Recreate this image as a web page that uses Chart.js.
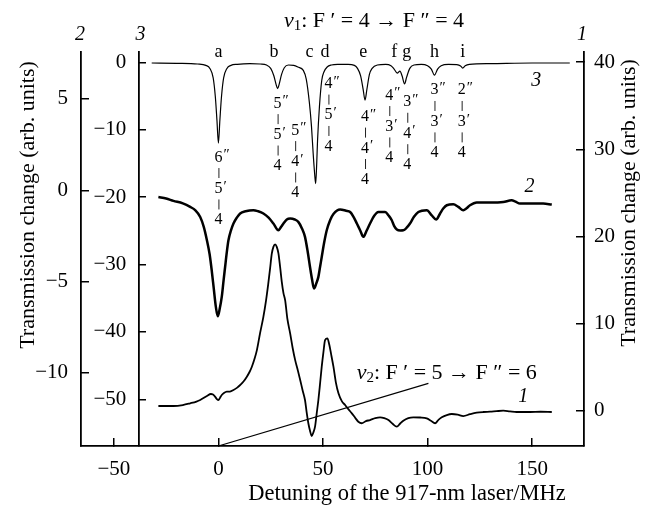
<!DOCTYPE html>
<html><head><meta charset="utf-8">
<script src="https://cdn.jsdelivr.net/npm/chart.js@4/dist/chart.umd.min.js"></script>
<style>html,body{margin:0;padding:0;background:#fff}#wrap{width:648px;height:508px}</style>
</head><body><div id="wrap"><canvas id="c" width="648" height="508"></canvas></div>
<script>
// ---- tick labels ----
const xTicks = [-50, 0, 50, 100, 150];
const y2Ticks = [-10, -5, 0, 5];
const y3Ticks = [-50, -40, -30, -20, -10, 0];
const y1Ticks = [0, 10, 20, 30, 40];

// ---- curve 3 (axis 3) ----
const curve3X = [-31.9,-20,-10,-6,-4,-2.5,-1.5,-0.7,0,0.7,1.5,2.5,4,6,9,15,20,23,25,26.5,27.6,28.3,29.0,30.2,31.5,33.5,36,38,40.6,42,43.5,44.5,45.3,46.0,46.5,47.0,47.4,48.3,49.4,50.5,52,54,57,62,65,66.5,68,69.2,70.1,71.0,72.2,73.5,76,80,82.5,84,85.5,86.8,87.8,89.0,90.0,91.5,93.5,97,100,101.8,103.3,104.8,106.5,110,114,115.8,116.8,118,120,130,150,168];
const curve3Y = [-0.1,-0.15,-0.25,-0.45,-0.95,-2.3,-5.0,-8.6,-12.0,-8.6,-5.0,-2.3,-0.95,-0.45,-0.3,-0.2,-0.25,-0.4,-0.9,-2.0,-3.3,-3.9,-3.3,-1.8,-0.8,-0.4,-0.45,-0.7,-1.2,-2.5,-6.0,-9.5,-13.5,-16.5,-18.0,-15.0,-11.6,-6.6,-2.7,-1.4,-0.7,-0.4,-0.3,-0.3,-0.45,-0.9,-2.0,-4.0,-5.6,-4.0,-1.8,-0.9,-0.4,-0.3,-0.5,-1.0,-1.6,-1.3,-2.0,-3.2,-2.2,-0.9,-0.4,-0.3,-0.5,-1.0,-1.9,-1.0,-0.5,-0.3,-0.35,-0.55,-0.85,-0.5,-0.3,-0.2,-0.1,-0.1];

// ---- curve 2 (axis 2) ----
const curve2X = [-28.7,-25,-21.5,-17,-13.5,-11,-8.7,-7,-5.5,-4.2,-3.2,-2.2,-1.2,-0.3,0.6,1.6,2.5,3.2,4.0,4.8,6.0,7.2,8.8,10.4,13,16.7,19,21.5,24,26.3,28.7,30,31.1,32.7,34.3,36.5,38.2,40,41.4,42.6,43.8,44.8,45.7,46.8,47.8,48.6,49.4,50.5,51.8,53.4,55.0,58.2,61,63.0,64.8,66.2,67.8,69.3,70.9,72.5,74.5,76.5,79.7,81.5,82.9,84,85.3,87,88.4,90,91.6,93.5,95.6,99.6,102.0,104.1,106.0,107.5,109.2,112.3,114.7,117.1,118.5,120.3,123.5,129.9,136.2,140.2,142,144.2,149.0,155.3,159.4];
const curve2Y = [-0.37,-0.45,-0.58,-0.72,-0.91,-1.1,-1.46,-2.0,-2.73,-3.5,-4.38,-5.4,-6.4,-6.9,-6.5,-5.84,-4.9,-4.2,-3.4,-2.74,-2.2,-1.82,-1.5,-1.27,-1.15,-1.09,-1.15,-1.27,-1.5,-1.82,-2.19,-2.0,-1.82,-1.6,-1.55,-1.6,-1.73,-2.1,-2.55,-3.3,-4.2,-4.9,-5.38,-5.1,-4.74,-4.2,-3.65,-2.9,-2.19,-1.64,-1.3,-1.05,-1.12,-1.19,-1.5,-1.82,-2.2,-2.55,-2.2,-1.82,-1.4,-1.19,-1.19,-1.4,-1.64,-1.95,-2.15,-2.2,-2.19,-2.05,-1.82,-1.45,-1.19,-1.09,-1.37,-1.6,-1.27,-1.0,-0.82,-0.77,-0.91,-1.09,-1.0,-0.82,-0.67,-0.67,-0.64,-0.55,-0.62,-0.73,-0.73,-0.73,-0.78];

// ---- curve 1 (axis 1) ----
const curve1X = [-28.7,-21.5,-17,-13.5,-10.5,-8.7,-5.5,-3.6,-2.6,-1.6,-0.6,0,0.8,1.6,2.8,4.0,5.5,7.2,9,10.4,12,13.6,15,16.0,17.2,18.4,19.9,21.5,22.8,23.8,24.7,25.5,26.3,27.1,27.9,28.7,29.5,30.3,31.1,31.9,33.0,34.3,35.5,36.7,38.0,39.1,40.3,41.4,42.2,43.0,43.8,44.6,45.4,46.2,47.0,47.8,48.6,49.4,50.2,51.0,52.1,53.0,53.8,55.0,56.2,57.4,59.0,60.6,62.2,63.8,65.5,66.9,68.5,70.5,72.5,75,77.3,79.3,81.3,83.3,85.3,86.8,88.4,90.8,93.2,96.5,99.6,101.6,103.6,105.2,106.8,109.2,111.6,114.4,117.1,120.3,123.5,126.7,129.9,133,136.2,139.4,142.6,149.0,154,159.4];
const curve1Y = [0.54,0.54,0.65,0.85,1.05,1.23,1.69,1.92,1.85,1.61,1.3,1.23,1.5,1.80,2.05,2.18,2.2,2.37,2.65,2.95,3.35,3.90,4.5,5.05,5.9,6.96,8.88,10.78,12.7,14.5,16.3,18.0,18.8,19.1,18.8,18.05,16.5,14.8,13.5,12.7,10.5,8.88,7.2,5.81,4.6,3.52,2.3,1.23,-0.2,-1.44,-2.3,-2.9,-2.5,-1.83,-0.3,1.23,3.1,5.05,6.7,8.1,8.3,7.6,6.6,5.05,3.2,2.0,1.1,0.65,0.15,-0.3,-0.85,-1.26,-1.44,-1.2,-1.07,-0.85,-0.76,-0.85,-1.07,-1.5,-1.83,-1.5,-1.15,-0.85,-0.76,-0.78,-0.88,-1.15,-1.44,-1.05,-0.76,-0.5,-0.38,-0.45,-0.61,-0.4,-0.23,-0.15,-0.11,-0.05,0,-0.08,-0.15,-0.15,-0.12,-0.15];

// ---- pointer line for nu2 label (axis 1) ----
const pointerX = [0, 100.4];
const pointerY = [-4.05, 3.14];

// ---- hyperfine component letters (MHz) ----
const letters = ['a','b','c','d','e','f','g','h','i'];
const letterX = [0, 26.6, 43.5, 51, 69.3, 84.1, 90.1, 103.3, 116.8];

// ---- transition label stacks (x in MHz, top in axis-3 units) ----
const stackX = [0, 28.3, 36.7, 52.6, 70.1, 81.7, 90.3, 103.3, 116.3];
const stackTop = [-14.1, -6.1, -10.1, -3.2, -8.1, -4.9, -5.9, -4.15, -4.15];
const stackUpper = ['6','5','5','4','4','4','3','3','2'];
const stackMiddle = ['5','5','4','5','4','3','4','3','3'];
const stackLower = ['4','4','4','4','4','4','4','4','4'];

const SERIF = '"Liberation Serif", "Times New Roman", serif';
Chart.defaults.font.family = SERIF;
Chart.defaults.color = '#000';

const pts = (xs, ys) => xs.map((x, i) => ({x, y: ys[i]}));
const fmt = v => v < 0 ? '\u2212' + Math.abs(v) : String(v);
const setTicks = arr => s => { s.ticks = arr.map(v => ({value: v})); };

function axisCommon(ticksArr, pad, suffix) {
  return {
    afterBuildTicks: setTicks(ticksArr),
    grid: {drawOnChartArea: false, drawTicks: true, tickLength: -8, color: '#000', lineWidth: 1.5},
    border: {display: true, color: '#000', width: 1.8},
    ticks: {padding: pad, color: '#000', font: {family: SERIF, size: 21}, callback: v => fmt(v) + (suffix || '')}
  };
}

function rich(ctx, parts, x, y) {
  let w = 0;
  parts.forEach(p => { ctx.font = p[1]; w += ctx.measureText(p[0]).width; });
  let cx = x - w / 2;
  ctx.textAlign = 'left'; ctx.textBaseline = 'middle';
  parts.forEach(p => { ctx.font = p[1]; ctx.fillText(p[0], cx, y + (p[2] || 0)); cx += ctx.measureText(p[0]).width; });
}

const textPlugin = {
  id: 'texts',
  afterDraw(chart) {
    const {ctx, chartArea, scales} = chart;
    const sx = scales.x, s3 = scales.y3, s1 = scales.y1, s2 = scales.y2;
    ctx.save();
    ctx.fillStyle = '#000';
    const reg = n => n + 'px ' + SERIF;
    const ita = n => 'italic ' + n + 'px ' + SERIF;
    // axis titles
    ctx.textAlign = 'center'; ctx.textBaseline = 'middle';
    ctx.font = reg(22.5);
    ctx.fillText('Detuning of the 917-nm laser/MHz', 407, 494);
    ctx.font = reg(22);
    ctx.save(); ctx.translate(28, 205); ctx.rotate(-Math.PI / 2);
    ctx.fillText('Transmission change (arb. units)', 0, 0); ctx.restore();
    ctx.save(); ctx.translate(629, 203); ctx.rotate(-Math.PI / 2);
    ctx.fillText('Transmission change (arb. units)', 0, 0); ctx.restore();
    // axis numbers on top
    ctx.font = ita(20);
    ctx.fillText('2', s2.right - 1, chartArea.top - 17);
    ctx.fillText('3', sx.getPixelForValue(-38.2) + 2, chartArea.top - 17);
    ctx.fillText('1', s1.left - 2, chartArea.top - 17);
    // curve labels
    ctx.fillText('3', sx.getPixelForValue(152), s3.getPixelForValue(-2.7));
    ctx.fillText('2', sx.getPixelForValue(148.7), s2.getPixelForValue(0.18));
    ctx.fillText('1', sx.getPixelForValue(145.8), s1.getPixelForValue(1.6));
    // nu1 title
    rich(ctx, [['\u03bd', ita(22)], ['1', reg(15), 5], [': F \u2032 = 4 \u2192 F \u2033 = 4', reg(22)]], 374, chartArea.top - 31);
    // nu2 label
    rich(ctx, [['\u03bd', ita(22)], ['2', reg(15), 5], [': F \u2032 = 5 \u2192 F \u2033 = 6', reg(22)]], sx.getPixelForValue(109.2), s1.getPixelForValue(4.3));
    // letters
    ctx.font = reg(18); ctx.textAlign = 'center';
    letters.forEach((l, i) => ctx.fillText(l, sx.getPixelForValue(letterX[i]), chartArea.top));
    // stacks
    const step = 15.7;
    stackX.forEach((xv, i) => {
      const px = sx.getPixelForValue(xv);
      let py = s3.getPixelForValue(stackTop[i]);
      const item = (d, prime) => {
        ctx.font = reg(16); ctx.textAlign = 'center';
        ctx.fillText(d, px, py);
        if (prime) {
          const w = ctx.measureText(d).width;
          ctx.font = reg(15); ctx.textAlign = 'left';
          ctx.fillText(prime, px + w / 2 + 1, py - 2);
        }
      };
      const bar = () => {
        ctx.beginPath(); ctx.strokeStyle = '#222'; ctx.lineWidth = 1;
        ctx.moveTo(px + 0.5, py - 5); ctx.lineTo(px + 0.5, py + 5); ctx.stroke();
      };
      item(stackUpper[i], '\u2033'); py += step;
      bar(); py += step;
      item(stackMiddle[i], '\u2032'); py += step;
      bar(); py += step;
      item(stackLower[i], null);
    });
    ctx.restore();
  }
};

const line = (data, axis, w) => ({data, yAxisID: axis, showLine: true, pointRadius: 0, borderColor: '#000', borderWidth: w, cubicInterpolationMode: 'monotone', fill: false});

new Chart(document.getElementById('c'), {
  type: 'scatter',
  data: {datasets: [
    line(pts(curve3X, curve3Y), 'y3', 1.2),
    line(pts(curve2X, curve2Y), 'y2', 2.5),
    line(pts(curve1X, curve1Y), 'y1', 1.8),
    Object.assign(line(pts(pointerX, pointerY), 'y1', 1.1), {cubicInterpolationMode: 'default', tension: 0})
  ]},
  options: {
    responsive: false, animation: false, devicePixelRatio: 1,
    layout: {padding: {top: 52, left: 0, right: 0, bottom: 0}},
    plugins: {legend: {display: false}, tooltip: {enabled: false}},
    scales: {
      x: Object.assign(axisCommon(xTicks, 19), {type: 'linear', position: 'bottom', min: -65.7, max: 174.8, afterFit: s => { s.height = 62; }}),
      y2: Object.assign(axisCommon(y2Ticks, 21), {type: 'linear', axis: 'y', position: 'left', min: -14.0, max: 7.57, afterFit: s => { s.width = 81; }}),
      y1: Object.assign(axisCommon(y1Ticks, 18), {type: 'linear', axis: 'y', position: 'right', min: -4.05, max: 41.17, afterFit: s => { s.width = 64; }}),
      y3: Object.assign(axisCommon(y3Ticks, 20, '\u2002\u200a'), {type: 'linear', axis: 'y', position: {x: -38.2}, min: -56.93, max: 1.53})
    }
  },
  plugins: [textPlugin]
});
</script>
</body></html>
